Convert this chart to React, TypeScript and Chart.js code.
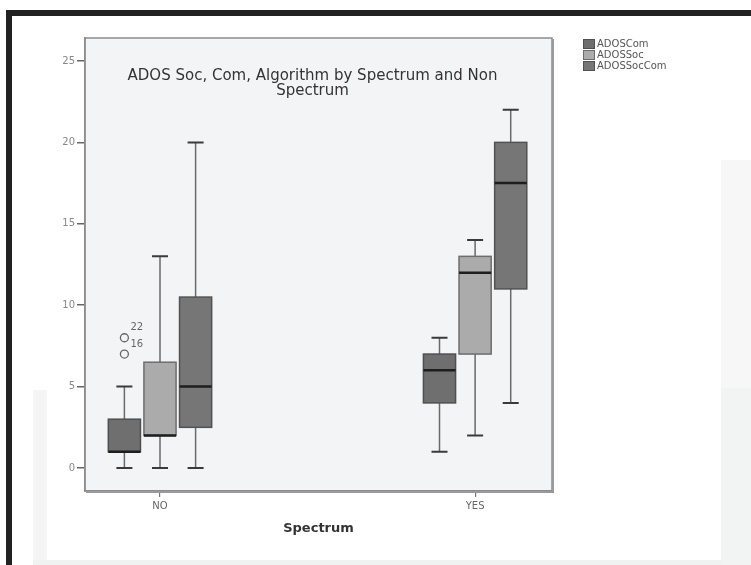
import React, { useEffect, useRef } from 'react';
import { Chart, registerables } from 'chart.js';

Chart.register(...registerables);

// ---------- data ----------
const categories = ['NO', 'YES'];
const seriesNames = ['ADOSCom', 'ADOSSoc', 'ADOSSocCom'];

const comMin = [0, 1];
const comQ1 = [1, 4];
const comMedian = [1, 6];
const comQ3 = [3, 7];
const comMax = [5, 8];

const socMin = [0, 2];
const socQ1 = [2, 7];
const socMedian = [2, 12];
const socQ3 = [6.5, 13];
const socMax = [13, 14];

const socComMin = [0, 4];
const socComQ1 = [2.5, 11];
const socComMedian = [5, 17.5];
const socComQ3 = [10.5, 20];
const socComMax = [20, 22];

const outlierValues = [8, 7];
const outlierLabels = ['22', '16'];
const outlierCategory = [0, 0];
const outlierSeries = [0, 0];

const yTicks = [0, 5, 10, 15, 20, 25];
const titleLines = ['ADOS Soc, Com, Algorithm by Spectrum and Non', 'Spectrum'];
const xTitle = 'Spectrum';

// ---------- styles ----------
const FONT = "'DejaVu Sans', sans-serif";
const seriesFill = ['#6f6f6f', '#ababab', '#767676'];
const seriesStroke = ['#4f4f4f', '#6d6d6d', '#525252'];
const groupOffsets = [-0.113, 0, 0.113];
const boxWidth = 0.102;

const stats = [
  { min: comMin, q1: comQ1, med: comMedian, q3: comQ3, max: comMax },
  { min: socMin, q1: socQ1, med: socMedian, q3: socQ3, max: socMax },
  { min: socComMin, q1: socComQ1, med: socComMedian, q3: socComQ3, max: socComMax },
];

const boxPlugin = {
  id: 'boxPlot',
  beforeDraw(chart: any) {
    const { ctx, chartArea: a } = chart;
    ctx.save();
    ctx.fillStyle = '#f3f4f6';
    ctx.fillRect(a.left, a.top, a.right - a.left, a.bottom - a.top);
    ctx.restore();
  },
  beforeDatasetsDraw(chart: any) {
    const { ctx } = chart;
    const xs = chart.scales.x;
    const ys = chart.scales.y;
    const half = (xs.getPixelForValue(boxWidth) - xs.getPixelForValue(0)) / 2;
    const capHalf = 8;
    ctx.save();
    stats.forEach((s, si) => {
      categories.forEach((_, ci) => {
        const cx = xs.getPixelForValue(ci + groupOffsets[si]);
        const pMin = ys.getPixelForValue(s.min[ci]);
        const pQ1 = ys.getPixelForValue(s.q1[ci]);
        const pMed = ys.getPixelForValue(s.med[ci]);
        const pQ3 = ys.getPixelForValue(s.q3[ci]);
        const pMax = ys.getPixelForValue(s.max[ci]);
        // whiskers
        ctx.strokeStyle = '#6a6a6a';
        ctx.lineWidth = 1.5;
        ctx.beginPath();
        ctx.moveTo(cx, pMin);
        ctx.lineTo(cx, pQ1);
        ctx.moveTo(cx, pQ3);
        ctx.lineTo(cx, pMax);
        ctx.stroke();
        // caps
        ctx.strokeStyle = '#3a3a3a';
        ctx.lineWidth = 2;
        ctx.beginPath();
        ctx.moveTo(cx - capHalf, pMin);
        ctx.lineTo(cx + capHalf, pMin);
        ctx.moveTo(cx - capHalf, pMax);
        ctx.lineTo(cx + capHalf, pMax);
        ctx.stroke();
        // box
        ctx.fillStyle = seriesFill[si];
        ctx.fillRect(cx - half, pQ3, half * 2, pQ1 - pQ3);
        ctx.strokeStyle = seriesStroke[si];
        ctx.lineWidth = 1.5;
        ctx.strokeRect(cx - half, pQ3, half * 2, pQ1 - pQ3);
        // median
        ctx.strokeStyle = '#1e1e1e';
        ctx.lineWidth = 2.5;
        ctx.beginPath();
        ctx.moveTo(cx - half, pMed);
        ctx.lineTo(cx + half, pMed);
        ctx.stroke();
      });
    });
    ctx.restore();
  },
  afterDatasetsDraw(chart: any) {
    const { ctx } = chart;
    const meta = chart.getDatasetMeta(0);
    ctx.save();
    ctx.fillStyle = '#666';
    ctx.font = `10px ${FONT}`;
    ctx.textAlign = 'left';
    ctx.textBaseline = 'middle';
    meta.data.forEach((pt: any, i: number) => {
      ctx.fillText(outlierLabels[i], pt.x + 6, pt.y - 10);
    });
    ctx.restore();
  },
  afterDraw(chart: any) {
    const { ctx, chartArea: a } = chart;
    ctx.save();
    // plot frame
    ctx.strokeStyle = '#8c8c8c';
    ctx.lineWidth = 1.5;
    ctx.strokeRect(a.left, a.top, a.right - a.left, a.bottom - a.top);
    ctx.strokeStyle = '#9a9a9a';
    ctx.lineWidth = 2;
    ctx.beginPath();
    ctx.moveTo(a.right + 1, a.top + 1);
    ctx.lineTo(a.right + 1, a.bottom + 1);
    ctx.lineTo(a.left + 1, a.bottom + 1);
    ctx.stroke();

    // title inside plot
    ctx.fillStyle = '#333';
    ctx.textAlign = 'center';
    ctx.textBaseline = 'middle';
    let size = 13;
    ctx.font = `${size}px ${FONT}`;
    const w = ctx.measureText(titleLines[0]).width;
    size = (size * 370) / w;
    ctx.font = `${size}px ${FONT}`;
    const tx = (a.left + a.right) / 2 - 6;
    ctx.fillText(titleLines[0], tx, 76);
    ctx.fillText(titleLines[1], tx, 91);

    // legend
    const legendX = 583;
    const legendY = [44, 55, 66];
    ctx.font = `10px ${FONT}`;
    ctx.textAlign = 'left';
    seriesNames.forEach((name, i) => {
      ctx.fillStyle = seriesFill[i];
      ctx.fillRect(legendX, legendY[i] - 5, 12, 10);
      ctx.strokeStyle = seriesStroke[i];
      ctx.lineWidth = 1;
      ctx.strokeRect(legendX + 0.5, legendY[i] - 4.5, 11, 9);
      ctx.fillStyle = '#555';
      ctx.fillText(name, legendX + 14, legendY[i]);
    });
    ctx.restore();
  },
};

export default function App() {
  const ref = useRef<HTMLCanvasElement>(null);

  useEffect(() => {
    const chart = new Chart(ref.current as HTMLCanvasElement, {
      type: 'scatter',
      data: {
        datasets: [
          {
            label: 'outliers',
            data: outlierValues.map((v, i) => ({
              x: outlierCategory[i] + groupOffsets[outlierSeries[i]],
              y: v,
            })),
            pointStyle: 'circle',
            pointRadius: 4,
            borderColor: '#666',
            backgroundColor: 'rgba(0,0,0,0)',
            borderWidth: 1.3,
            showLine: false,
          },
        ],
      },
      options: {
        responsive: false,
        animation: false,
        devicePixelRatio: 1,
        layout: { padding: { left: 0, top: 38, right: 199, bottom: 0 } },
        plugins: {
          legend: { display: false },
          title: { display: false },
          tooltip: { enabled: false },
        },
        scales: {
          x: {
            type: 'linear',
            min: -0.238,
            max: 1.244,
            afterBuildTicks: (s: any) => {
              s.ticks = categories.map((_, i) => ({ value: i }));
            },
            afterFit: (s: any) => {
              s.height = 74;
            },
            ticks: {
              callback: (v: any) => categories[v] ?? '',
              font: { size: 10, family: FONT },
              color: '#666',
              padding: 3,
              maxRotation: 0,
              autoSkip: false,
            },
            grid: {
              drawOnChartArea: false,
              drawTicks: true,
              tickLength: 6,
              color: '#777',
              lineWidth: 1.2,
            },
            border: { display: true, color: '#8c8c8c', width: 1.5 },
            title: {
              display: true,
              text: xTitle,
              font: { size: 13, weight: 'bold', family: FONT },
              color: '#333',
              padding: { top: 0, bottom: 29 },
            },
          },
          y: {
            type: 'linear',
            min: -1.41,
            max: 26.41,
            afterBuildTicks: (s: any) => {
              s.ticks = yTicks.map((v) => ({ value: v }));
            },
            afterFit: (s: any) => {
              s.width = 85;
            },
            ticks: {
              font: { size: 10, family: FONT },
              color: '#888',
              padding: 2,
              autoSkip: false,
            },
            grid: {
              drawOnChartArea: false,
              drawTicks: true,
              tickLength: 8,
              color: '#666',
              lineWidth: 1.5,
            },
            border: { display: true, color: '#8c8c8c', width: 1.5 },
          },
        },
      },
      plugins: [boxPlugin],
    } as any);
    return () => chart.destroy();
  }, []);

  return (
    <div
      style={{
        position: 'fixed',
        left: 0,
        top: 0,
        width: 751,
        height: 565,
        background: '#fff',
        overflow: 'hidden',
      }}
    >
      <div style={{ position: 'absolute', left: 721, top: 160, width: 30, height: 228, background: '#f7f7f7' }} />
      <div style={{ position: 'absolute', left: 721, top: 388, width: 30, height: 177, background: '#f2f3f3' }} />
      <div style={{ position: 'absolute', left: 33, top: 390, width: 14, height: 170, background: '#f5f5f5' }} />
      <div style={{ position: 'absolute', left: 33, top: 560, width: 688, height: 5, background: '#f0f1f1' }} />
      <div style={{ position: 'absolute', left: 6, top: 10, width: 745, height: 6, background: '#222' }} />
      <div style={{ position: 'absolute', left: 6, top: 10, width: 6, height: 555, background: '#222' }} />
      <canvas
        ref={ref}
        width={751}
        height={565}
        style={{ position: 'absolute', left: 0, top: 0, width: 751, height: 565 }}
      />
    </div>
  );
}
